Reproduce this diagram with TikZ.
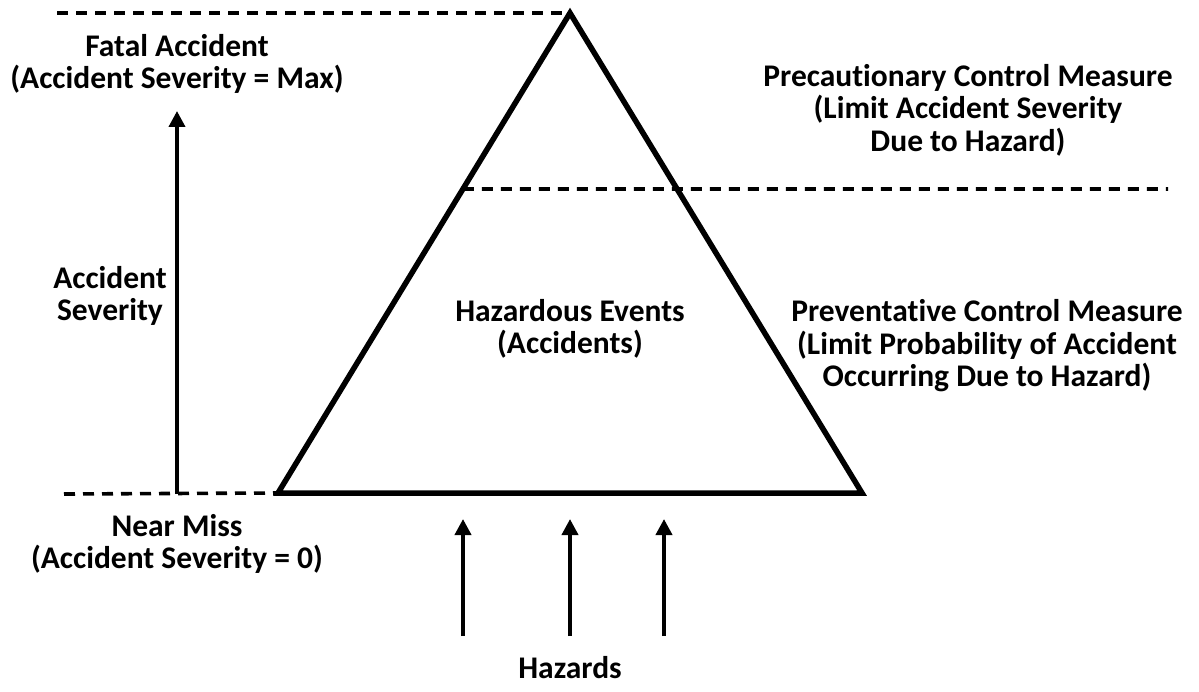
\documentclass[tikz,border=0pt]{standalone}
\usepackage{fontspec}
\setmainfont{Carlito}[Ligatures=NoCommon]
\usetikzlibrary{arrows.meta,calc}
\begin{document}
\begin{tikzpicture}[x=1pt,y=-1pt,
  lbl/.style={font=\fontsize{31.5}{32.5}\selectfont\bfseries, align=center, inner sep=0pt},
  edge/.style={line width=5.5pt, line join=miter},
  guide/.style={line width=3.6pt, dash pattern=on 11pt off 8pt},
  up/.style={line width=3.8pt, -{Triangle[length=16pt,width=16pt]}}]
\useasboundingbox (0,0) rectangle (1199,692);

% pyramid corners
\coordinate (apex) at (570,13);
\coordinate (bl) at (278,493);
\coordinate (br) at (862,493);
\draw[edge] (bl) -- (apex) -- (br) -- cycle;

% level guides
\coordinate (topL) at (57,13);
\coordinate (midL) at ($(apex)!0.3667!(bl)$);
\coordinate (midR) at (1168,189);
\coordinate (botL) at (64,494);
\draw[guide] (topL) -- (apex);
\draw[guide] (midL) -- (midR);
\draw[guide] (botL) -- (bl);

% severity axis
\coordinate (sevBot) at (177,494);
\coordinate (sevTop) at (177,111);
\draw[up] (sevBot) -- (sevTop);

% hazard arrows
\foreach \n/\x in {a/463,b/570,c/664}{
  \coordinate (h\n0) at (\x,636);
  \coordinate (h\n1) at (\x,519);
  \draw[up] (h\n0) -- (h\n1);
}

% labels
\node[lbl] (fatal) at (177,64) {Fatal Accident\\(Accident Severity = Max)};
\node[lbl] (sev) at (110,296) {Accident\\Severity};
\node[lbl] (near) at (177,544) {Near Miss\\(Accident Severity = 0)};
\node[lbl] (events) at (570,329) {Hazardous Events\\(Accidents)};
\node[lbl] (precaution) at (968,110) {Precautionary Control Measure\\(Limit Accident Severity\\Due to Hazard)};
\node[lbl] (prevent) at (987,346) {Preventative Control Measure\\(Limit Probability of Accident\\Occurring Due to Hazard)};
\node[lbl] (hazards) at (570,668) {Hazards};
\end{tikzpicture}
\end{document}
